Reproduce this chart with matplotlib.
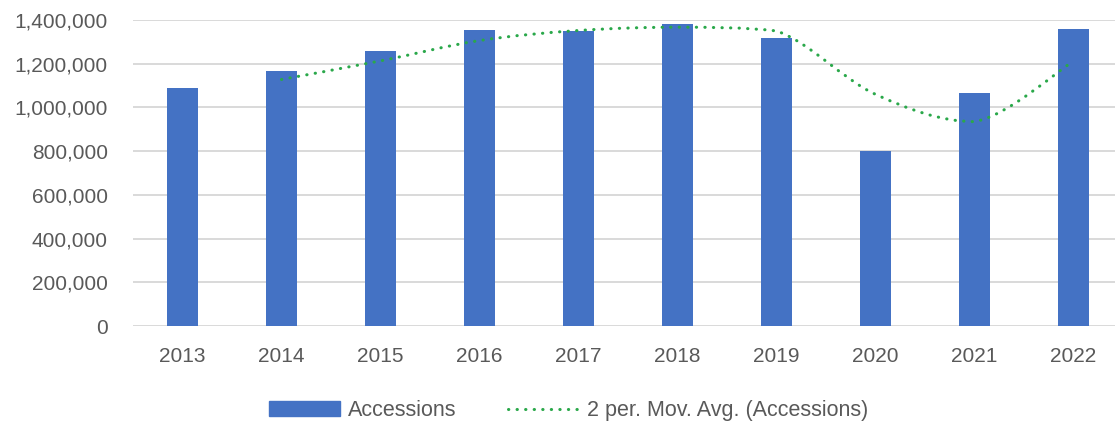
import numpy as np
import matplotlib.pyplot as plt
from matplotlib.path import Path
from matplotlib.patches import PathPatch
from matplotlib.lines import Line2D
from matplotlib.ticker import FuncFormatter

### Data
years = ['2013', '2014', '2015', '2016', '2017', '2018', '2019', '2020', '2021', '2022']
accessions = [1087000, 1167000, 1258000, 1354000, 1351000, 1382000, 1319000, 800000, 1067000, 1357000]
# 2 period moving average, starts at 2014
ma_years = years[1:]
ma_values = [1128000, 1213000, 1306000, 1352000, 1367000, 1350000, 1060000, 935000, 1212000]

bar_color = '#4472C4'
ma_color = '#2AA84A'
text_color = '#595959'
grid_color = '#D9D9D9'

plt.rcParams['font.family'] = ['Liberation Sans', 'DejaVu Sans']

fig = plt.figure(figsize=(11.15, 4.28), dpi=100)
ax = fig.add_axes([133 / 1115, 1 - 326 / 428, 990 / 1115, 306 / 428])

x = np.arange(len(years))
ax.bar(x, accessions, width=0.31, color=bar_color, zorder=2)

# smoothed line like Excel: bezier segments, control points kept inside each segment's y range
mx = np.array([years.index(y) for y in ma_years], dtype=float)
pts = np.column_stack([mx, np.array(ma_values, dtype=float)])
ext = np.vstack([pts[0], pts, pts[-1]])
verts = [tuple(pts[0])]
codes = [Path.MOVETO]
for i in range(1, len(ext) - 2):
    p0, p1, p2, p3 = ext[i - 1], ext[i], ext[i + 1], ext[i + 2]
    c1 = p1 + (p2 - p0) / 6
    c2 = p2 - (p3 - p1) / 6
    lo, hi = min(p1[1], p2[1]), max(p1[1], p2[1])
    c1[1] = np.clip(c1[1], lo, hi)
    c2[1] = np.clip(c2[1], lo, hi)
    verts += [tuple(c1), tuple(c2), tuple(p2)]
    codes += [Path.CURVE4] * 3
patch = PathPatch(Path(verts, codes), facecolor='none', edgecolor=ma_color,
                  linewidth=2.2, linestyle=(0, (0.1, 2.7)), capstyle='round', zorder=3)
ax.add_patch(patch)

ax.set_xlim(-0.5, len(years) - 0.5)
ax.set_ylim(0, 1400000)
ax.set_yticks(np.arange(0, 1400001, 200000))
ax.yaxis.set_major_formatter(FuncFormatter(lambda v, p: f'{int(v):,}'))
ax.set_xticks(x)
ax.set_xticklabels(years)
ax.tick_params(axis='both', length=0, labelsize=15, colors=text_color)
ax.tick_params(axis='x', pad=15)
ax.tick_params(axis='y', pad=18)
ax.grid(axis='y', color=grid_color, linewidth=1.4, zorder=0)
for s in ax.spines.values():
    s.set_visible(False)
ax.set_axisbelow(True)

handles = [plt.Rectangle((0, 0), 1, 1, color=bar_color),
           Line2D([0], [0], color=ma_color, linewidth=2.2, linestyle=(0, (0.1, 2.7)),
                  dash_capstyle='round')]
fig.legend(handles, ['Accessions', '2 per. Mov. Avg. (Accessions)'], loc='lower center',
           bbox_to_anchor=(0.51, -0.03), ncol=2, frameon=False, fontsize=15.5,
           labelcolor=text_color, handlelength=3.3, handletextpad=0.35, columnspacing=2.4)

fig.savefig('out.png', dpi=100)
